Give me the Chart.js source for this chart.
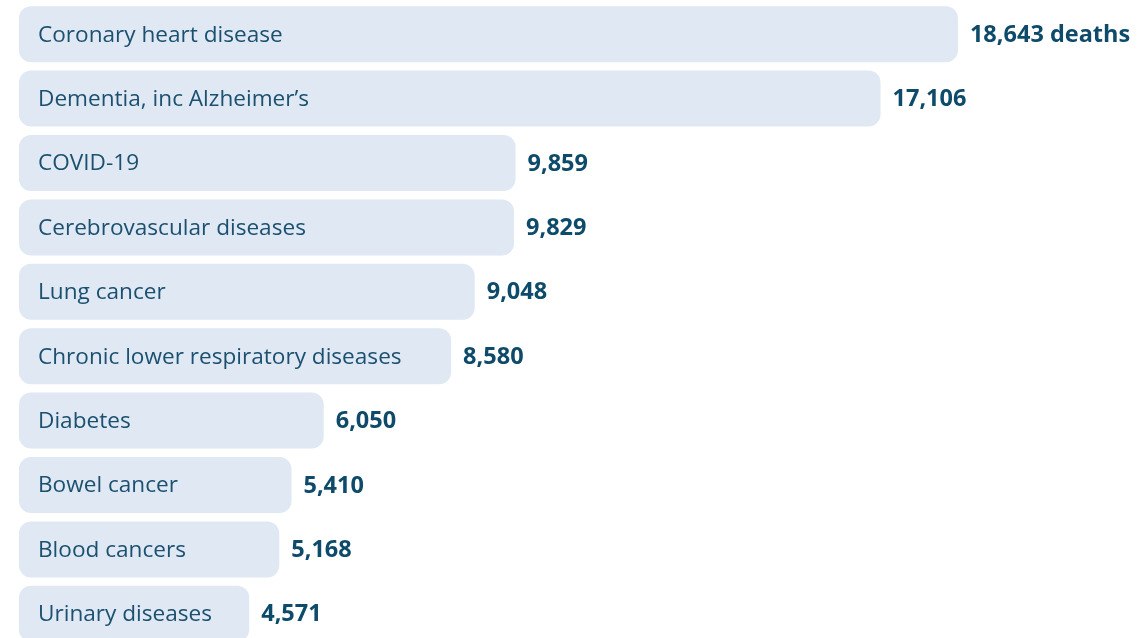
<!DOCTYPE html>
<html>
<head>
<meta charset="utf-8">
<script src="https://cdn.jsdelivr.net/npm/chart.js@4/dist/chart.umd.min.js"></script>
<style>
  html, body { margin: 0; padding: 0; background: #fff; overflow: hidden; }
  #wrap { width: 1139px; height: 646px; position: relative; }
</style>
</head>
<body>
<div id="wrap"><canvas id="barChart"></canvas></div>
<script>
const causes = [
    "Coronary heart disease",
    "Dementia, inc Alzheimer\u2019s",
    "COVID-19",
    "Cerebrovascular diseases",
    "Lung cancer",
    "Chronic lower respiratory diseases",
    "Diabetes",
    "Bowel cancer",
    "Blood cancers",
    "Urinary diseases"
];
const deaths = [18643, 17106, 9859, 9829, 9048, 8580, 6050, 5410, 5168, 4571];
const valueLabels = ["18,643 deaths", "17,106", "9,859", "9,829", "9,048", "8,580", "6,050", "5,410", "5,168", "4,571"];

const FONT = "'Open Sans', Lato, sans-serif";

// draws the cause inside each bar and the count after it
const barText = {
    id: "barText",
    afterDatasetsDraw(chart) {
        const ctx = chart.ctx;
        const meta = chart.getDatasetMeta(0);
        ctx.save();
        ctx.textBaseline = "middle";
        meta.data.forEach((bar, i) => {
            ctx.font = "400 22.6px " + FONT;
            ctx.fillStyle = "#1b5070";
            ctx.textAlign = "left";
            ctx.fillText(causes[i], bar.base + 19, bar.y + 1);
            ctx.font = "700 23.5px " + FONT;
            ctx.fillStyle = "#0e4a6a";
            ctx.fillText(valueLabels[i], bar.x + 12, bar.y + 1);
        });
        ctx.restore();
    }
};

new Chart(document.getElementById("barChart"), {
    type: "bar",
    data: {
        labels: causes,
        datasets: [{
            data: deaths,
            backgroundColor: "#dfe8f3",
            borderRadius: 12,
            borderSkipped: false,
            barPercentage: 0.87,
            categoryPercentage: 1
        }]
    },
    options: {
        indexAxis: "y",
        responsive: true,
        maintainAspectRatio: false,
        animation: false,
        layout: { padding: { left: 19, right: 12, top: 2, bottom: 0 } },
        scales: {
            x: { display: false, min: 0, max: 22000 },
            y: { display: false }
        },
        plugins: {
            legend: { display: false },
            tooltip: { enabled: false }
        }
    },
    plugins: [barText]
});
</script>
</body>
</html>
